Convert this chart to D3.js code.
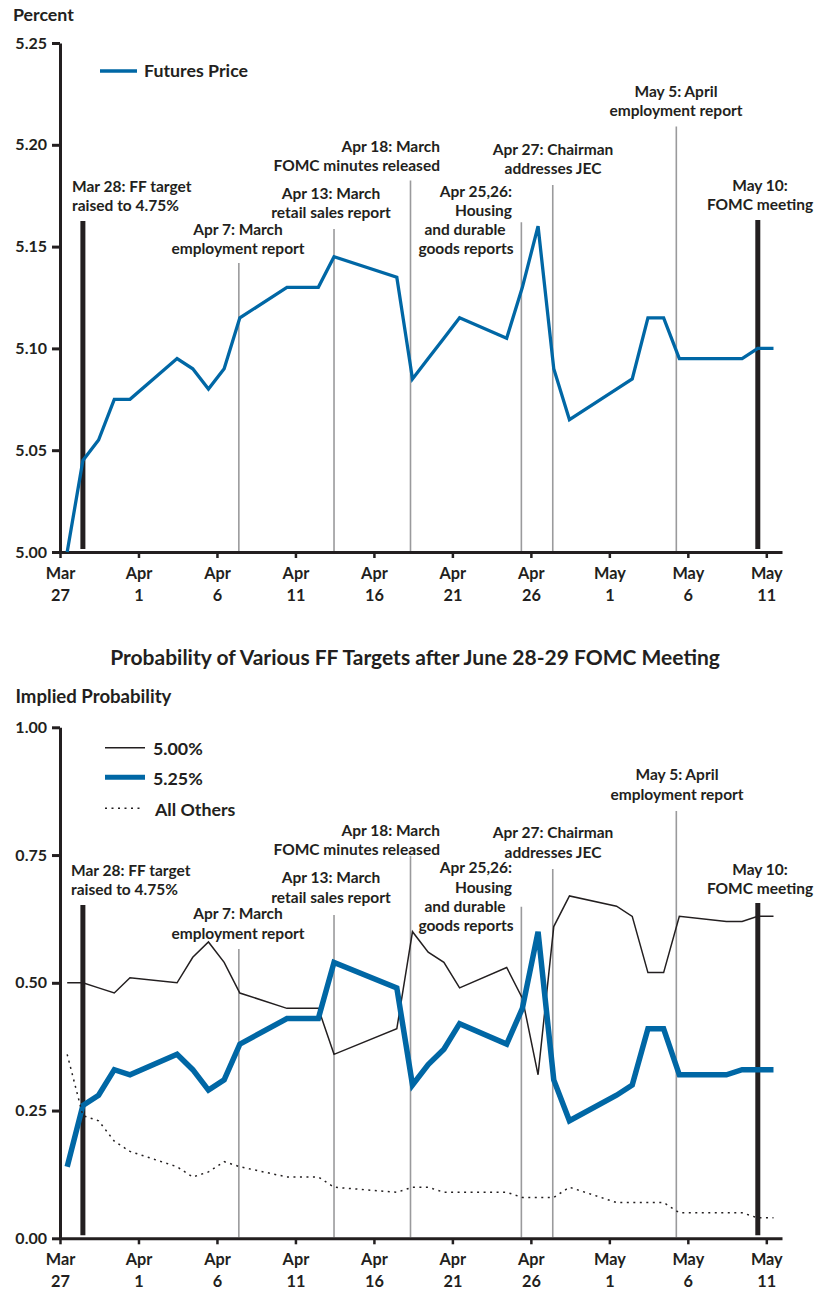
<!DOCTYPE html>
<html><head><meta charset="utf-8">
<script src="https://cdn.jsdelivr.net/npm/d3@7"></script>
<style>
html,body{margin:0;padding:0;background:#fff;}
text{font-family:Lato,"Open Sans",sans-serif;fill:#231f20;font-weight:700;}
</style></head>
<body>
<svg id="chart" width="815" height="1289"></svg>
<script>
// ---------------- DATA ----------------
const dates = ["2006-03-27","2006-03-28","2006-03-29","2006-03-30","2006-03-31",
  "2006-04-03","2006-04-04","2006-04-05","2006-04-06","2006-04-07",
  "2006-04-10","2006-04-11","2006-04-12","2006-04-13","2006-04-17",
  "2006-04-18","2006-04-19","2006-04-20","2006-04-21","2006-04-24",
  "2006-04-25","2006-04-26","2006-04-27","2006-04-28","2006-05-01",
  "2006-05-02","2006-05-03","2006-05-04","2006-05-05","2006-05-08",
  "2006-05-09","2006-05-10","2006-05-11"];
const futuresPrice = [5.000,5.045,5.055,5.075,5.075,
  5.095,5.090,5.080,5.090,5.115,
  5.130,5.130,5.130,5.145,5.135,
  5.085,5.095,5.105,5.115,5.105,
  5.130,5.160,5.090,5.065,5.080,
  5.085,5.115,5.115,5.095,5.095,
  5.095,5.100,5.100];
const prob500 = [0.50,0.50,0.49,0.48,0.51,
  0.50,0.55,0.58,0.54,0.48,
  0.45,0.45,0.45,0.36,0.41,
  0.60,0.56,0.54,0.49,0.53,
  0.47,0.32,0.61,0.67,0.65,
  0.63,0.52,0.52,0.63,0.62,
  0.62,0.63,0.63];
const prob525 = [0.14,0.26,0.28,0.33,0.32,
  0.36,0.33,0.29,0.31,0.38,
  0.43,0.43,0.43,0.54,0.49,
  0.30,0.34,0.37,0.42,0.38,
  0.45,0.60,0.31,0.23,0.28,
  0.30,0.41,0.41,0.32,0.32,
  0.33,0.33,0.33];
const probOthers = [0.36,0.24,0.23,0.19,0.17,
  0.14,0.12,0.13,0.15,0.14,
  0.12,0.12,0.12,0.10,0.09,
  0.10,0.10,0.09,0.09,0.09,
  0.08,0.08,0.08,0.10,0.07,
  0.07,0.07,0.07,0.05,0.05,
  0.05,0.04,0.04];
const xTickDates = ["2006-03-27","2006-04-01","2006-04-06","2006-04-11","2006-04-16",
  "2006-04-21","2006-04-26","2006-05-01","2006-05-06","2006-05-11"];
const xTickLabels = [["Mar","27"],["Apr","1"],["Apr","6"],["Apr","11"],["Apr","16"],
  ["Apr","21"],["Apr","26"],["May","1"],["May","6"],["May","11"]];
const topYTicks = [5.00,5.05,5.10,5.15,5.20,5.25];
const botYTicks = [0.00,0.25,0.50,0.75,1.00];
const eventDates = ["2006-03-28","2006-04-07","2006-04-13","2006-04-18","2006-04-25","2006-04-27","2006-05-05","2006-05-10"];
const eventMajor = [true,false,false,false,false,false,false,true];
const eventLabels = [["Mar 28: FF target","raised to 4.75%"],["Apr 7: March","employment report"],
  ["Apr 13: March","retail sales report"],["Apr 18: March","FOMC minutes released"],
  ["Apr 25,26:","Housing","and durable","goods reports"],["Apr 27: Chairman","addresses JEC"],
  ["May 5: April","employment report"],["May 10:","FOMC meeting"]];
const seriesNames = ["5.00%","5.25%","All Others"];
const topLegend = "Futures Price";
const topYTitle = "Percent";
const botYTitle = "Implied Probability";
const botTitle = "Probability of Various FF Targets after June 28-29 FOMC Meeting";

// ---------------- LAYOUT ----------------
const INK = "#231f20", BLUE = "#0067a5", GREY = "#9a9a9c";
const parse = d3.utcParse("%Y-%m-%d");
const pointTime = s => d3.utcHour.offset(parse(s), 11);
const svg = d3.select("#chart");

const x = d3.scaleUtc().domain([parse("2006-03-27"), parse("2006-05-12")]).range([60, 782]);

const ANNO_FS = 15.5;
const lineShift = [0,-1,0,-2,-1,-1,-3,0];
const topAnno = [
  {lines:[["start",72]], y:191.7, top:221},
  {lines:[["middle",238]], y:235, top:263},
  {lines:[["middle",331]], y:199, top:229},
  {lines:[["end",440]], y:151.7, top:180.5},
  {lines:[["end",512],["end",512],["middle",465],["middle",466]], y:196.7, top:222.3},
  {lines:[["middle",553]], y:155, top:185},
  {lines:[["middle",676]], y:96.7, top:126.5},
  {lines:[["middle",760]], y:190.7, top:220}
];
const botAnno = [
  {lines:[["start",71]], y:876, top:905},
  {lines:[["middle",238]], y:919.3, top:949},
  {lines:[["middle",331]], y:883.3, top:915},
  {lines:[["end",440]], y:835.5, top:856},
  {lines:[["end",512],["end",512],["middle",465],["middle",466]], y:873.3, top:906.7},
  {lines:[["middle",553]], y:838.3, top:869},
  {lines:[["middle",677]], y:780.3, top:811},
  {lines:[["middle",760]], y:875, top:903}
];

function drawPanel(cfg) {
  const g = svg.append("g");
  const y = cfg.y;
  eventDates.forEach((d,i) => {
    const xe = x(pointTime(d)) + lineShift[i];
    g.append("line").attr("x1",xe).attr("x2",xe)
      .attr("y1", cfg.anno[i].top).attr("y2", y.range()[0] - (eventMajor[i] ? 3 : 1))
      .attr("stroke", eventMajor[i] ? INK : GREY)
      .attr("stroke-width", eventMajor[i] ? 5 : 1.6);
    const a = cfg.anno[i];
    eventLabels[i].forEach((t,k) => {
      const spec = a.lines[Math.min(k, a.lines.length-1)];
      g.append("text").attr("x", spec[1]).attr("y", a.y + k*19.2)
        .attr("text-anchor", spec[0]).attr("font-size", ANNO_FS).text(t);
    });
  });
  const yAxis = d3.axisLeft(y).tickValues(cfg.yTicks).tickSize(8).tickSizeOuter(0)
    .tickPadding(5).tickFormat(d3.format(".2f"));
  const ya = g.append("g").attr("transform","translate(60,0)").call(yAxis);
  ya.select(".domain").attr("stroke",INK).attr("stroke-width",3);
  ya.selectAll(".tick line").attr("stroke",INK).attr("stroke-width",3);
  ya.selectAll(".tick text").attr("font-size",16).attr("font-family","Lato,sans-serif").attr("fill",INK);
  const xAxis = d3.axisBottom(x).tickValues(xTickDates.map(parse)).tickSize(6).tickSizeOuter(0).tickFormat("");
  const xa = g.append("g").attr("transform",`translate(0,${y.range()[0]})`).call(xAxis);
  xa.select(".domain").attr("stroke",INK).attr("stroke-width",3);
  xa.selectAll(".tick line").attr("stroke",INK).attr("stroke-width",2.5);
  xa.selectAll(".tick").each(function(d,i){
    const t = d3.select(this).append("text").attr("text-anchor","middle")
      .attr("font-size",16.3).attr("font-family","Lato,sans-serif").attr("fill",INK);
    t.append("tspan").attr("x",0).attr("y",27).text(xTickLabels[i][0]);
    t.append("tspan").attr("x",0).attr("y",48.5).text(xTickLabels[i][1]);
  });
  g.append("text").attr("x", cfg.titleX).attr("y", cfg.titleY).attr("font-size",cfg.titleFS).text(cfg.yTitle);
  return g;
}

// ---- Top panel ----
const yTop = d3.scaleLinear().domain([5.0,5.25]).range([552,43]);
const gTop = drawPanel({y:yTop, yTicks:topYTicks, anno:topAnno, yTitle:topYTitle, titleX:13, titleY:21, titleFS:17.8});
const lineTop = d3.line().x((d,i)=>x(pointTime(dates[i]))).y(d=>yTop(d));
gTop.append("path").attr("d", lineTop(futuresPrice)).attr("fill","none")
  .attr("stroke",BLUE).attr("stroke-width",3.3).attr("stroke-linejoin","miter");
gTop.append("line").attr("x1",100).attr("x2",137).attr("y1",71).attr("y2",71).attr("stroke",BLUE).attr("stroke-width",3.3);
gTop.append("text").attr("x",144).attr("y",77).attr("font-size",17.8).text(topLegend);

// ---- Bottom panel ----
svg.append("text").attr("x",415).attr("y",665).attr("text-anchor","middle").attr("font-size",21).text(botTitle);
const yBot = d3.scaleLinear().domain([0,1]).range([1238.3,727.3]);
const gBot = drawPanel({y:yBot, yTicks:botYTicks, anno:botAnno, yTitle:botYTitle, titleX:15.5, titleY:703, titleFS:18.6});
const lineBot = d3.line().x((d,i)=>x(pointTime(dates[i]))).y(d=>yBot(d));
const styles = [
  {stroke:INK, w:1.5, dash:null},
  {stroke:BLUE, w:5.5, dash:null},
  {stroke:INK, w:1.5, dash:"2,4.5"}
];
[prob500, prob525, probOthers].forEach((s,k) => {
  gBot.append("path").attr("d", lineBot(s)).attr("fill","none")
    .attr("stroke",styles[k].stroke).attr("stroke-width",styles[k].w)
    .attr("stroke-dasharray",styles[k].dash);
});
const legY = [747.7, 777.3, 808.3], legTY = [755, 785, 815.5];
seriesNames.forEach((n,k) => {
  gBot.append("line").attr("x1",105).attr("x2",k==2?142:145).attr("y1",legY[k]).attr("y2",legY[k])
    .attr("stroke",styles[k].stroke).attr("stroke-width",styles[k].w===5.5?5:styles[k].w)
    .attr("stroke-dasharray",styles[k].dash);
  gBot.append("text").attr("x",k==2?155:153).attr("y",legTY[k]).attr("font-size",17.8).text(n);
});
</script>
</body></html>
